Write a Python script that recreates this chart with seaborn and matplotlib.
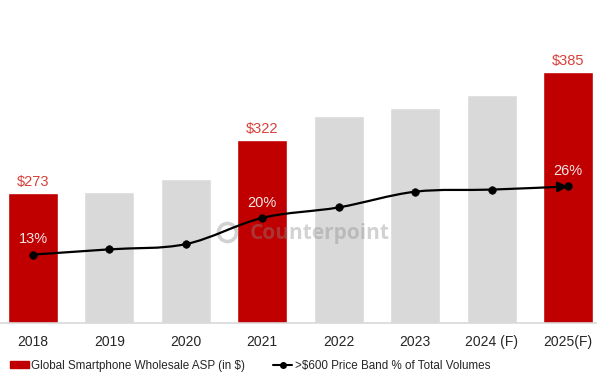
import numpy as np
import pandas as pd
import matplotlib
matplotlib.use("Agg")
import matplotlib.pyplot as plt
import seaborn as sns
from matplotlib.path import Path
from matplotlib.patches import FancyArrowPatch, Patch
from matplotlib.lines import Line2D

years = ["2018", "2019", "2020", "2021", "2022", "2023", "2024 (F)", "2025(F)"]
asp = [273, 274, 286, 322, 345, 352, 364, 385]
share = [13, 14, 15, 20, 22, 25, 25.4, 26]
highlight = [True, False, False, True, False, False, False, True]
asp_labels = ["$273", "", "", "$322", "", "", "", "$385"]
share_labels = ["13%", "", "", "20%", "", "", "", "26%"]

RED = "#C00000"
GREY = "#D9D9D9"
LABEL_RED = "#D9403A"

sns.set_theme(style="white")
plt.rcParams["font.family"] = ["Liberation Sans", "DejaVu Sans"]

fig = plt.figure(figsize=(5.97, 3.77), dpi=100)
ax = fig.add_axes([0.0, 0.144, 1.0, 0.80])

df = pd.DataFrame({"year": years, "asp": asp,
                   "kind": ["hi" if h else "lo" for h in highlight]})
sns.barplot(data=df, x="year", y="asp", hue="kind",
            palette={"hi": RED, "lo": GREY}, width=0.654,
            dodge=False, legend=False, ax=ax, saturation=1)

ax.set_xlim(-0.432, 7.38)
ax.set_ylim(152.8, 152.8 + (322.7 - 20) / 1.082)
for s in ["left", "right", "top"]:
    ax.spines[s].set_visible(False)
ax.spines["bottom"].set_color("#D9D9D9")
ax.spines["bottom"].set_linewidth(1.2)
ax.set_yticks([])
ax.set_xlabel("")
ax.set_ylabel("")
ax.tick_params(axis="x", length=0, pad=9, labelsize=10, labelcolor="#262626")

for i, lab in enumerate(asp_labels):
    if lab:
        ax.text(i, asp[i] + 4, lab, ha="center", va="bottom",
                fontsize=10.5, color=LABEL_RED)

# watermark
ax.text(0.535, 0.295, "Counterpoint", transform=ax.transAxes, ha="center",
        va="center", fontsize=15, fontweight="bold", color="#8a8a8a",
        alpha=0.38, zorder=5, family=["Open Sans", "DejaVu Sans"])
ax.plot([0.38], [0.30], transform=ax.transAxes, marker="o", markersize=13,
        markerfacecolor="none", markeredgecolor="#8a8a8a", markeredgewidth=2.6,
        alpha=0.38, zorder=5, linestyle="none")

# secondary axis for the price-band share
ax2 = ax.twinx()
ax2.set_ylim(0, (321 - 20) / 5.23)
ax2.set_yticks([])
for s in ax2.spines.values():
    s.set_visible(False)

xs = np.arange(len(share), dtype=float)
ys = np.array(share, dtype=float)

# smooth curve through the points (Catmull-Rom as cubic Bezier segments)
verts = [(xs[0], ys[0])]
codes = [Path.MOVETO]
n = len(xs)
for i in range(n - 1):
    p0 = np.array([xs[max(i - 1, 0)], ys[max(i - 1, 0)]])
    p1 = np.array([xs[i], ys[i]])
    p2 = np.array([xs[i + 1], ys[i + 1]])
    p3 = np.array([xs[min(i + 2, n - 1)], ys[min(i + 2, n - 1)]])
    c1 = p1 + (p2 - p0) / 6.0
    c2 = p2 - (p3 - p1) / 6.0
    verts += [tuple(c1), tuple(c2), tuple(p2)]
    codes += [Path.CURVE4] * 3
curve = FancyArrowPatch(path=Path(verts, codes), arrowstyle="-|>",
                        mutation_scale=15, color="black", lw=1.6,
                        transform=ax2.transData, zorder=6)
ax2.add_patch(curve)
sns.scatterplot(x=xs, y=ys, ax=ax2, color="black", s=30, zorder=7,
                edgecolor="black", legend=False)

for i, lab in enumerate(share_labels):
    if lab:
        ax2.text(i, ys[i] + 1.6, lab, ha="center", va="bottom",
                 fontsize=10.5, color="#F6E6E6", zorder=8)

handles = [Patch(facecolor=RED, edgecolor=RED),
           Line2D([0], [0], color="black", marker="o", markersize=4, lw=1.5)]
fig.legend(handles, ["Global Smartphone Wholesale ASP (in $)",
                     ">$600 Price Band % of Total Volumes"],
           loc="center", bbox_to_anchor=(0.419, 0.03), ncol=2, frameon=False,
           fontsize=8.4, handlelength=1.6, handleheight=0.55,
           handletextpad=0.25, columnspacing=2.4, labelcolor="#262626",
           borderpad=0, borderaxespad=0)

fig.savefig("out.png", dpi=100)
